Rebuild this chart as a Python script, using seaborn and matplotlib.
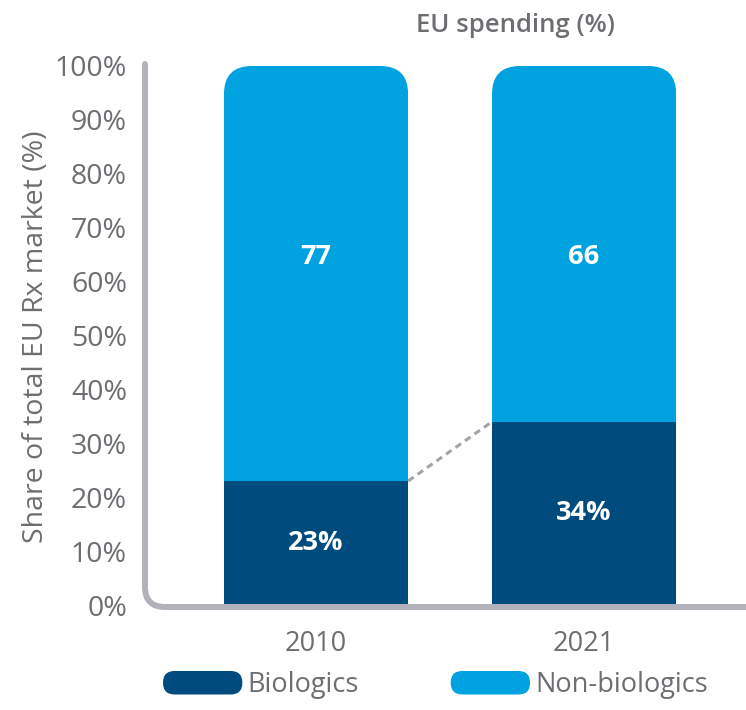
import matplotlib
matplotlib.use("Agg")
import matplotlib.pyplot as plt
import seaborn as sns
import pandas as pd
from matplotlib.patches import FancyBboxPatch, Patch, PathPatch
from matplotlib.path import Path
from matplotlib.legend_handler import HandlerPatch
from matplotlib.transforms import IdentityTransform

# Share of the total EU Rx market, by year
years = ["2010", "2021"]
biologics = [23, 34]
non_biologics = [77, 66]
y_ticks = [0, 10, 20, 30, 40, 50, 60, 70, 80, 90, 100]

DARK = "#004b7d"
LIGHT = "#00a3e0"
GRAY_TXT = "#6d6e72"
GRAY_AX = "#b2b2ba"
GRAY_DASH = "#a3a3aa"

sns.set_theme(style="white")
plt.rcParams["font.family"] = ["Open Sans", "DejaVu Sans"]

W, H = 746, 710
fig = plt.figure(figsize=(W / 100, H / 100), dpi=100)
ax = fig.add_axes([145 / W, (H - 605) / H, (W - 145) / W, (605 - 66) / H])

df = pd.DataFrame({"year": years, "Biologics": biologics, "Non-biologics": non_biologics})
df["total"] = df["Biologics"] + df["Non-biologics"]

bar_w = 0.687
sns.barplot(data=df, x="year", y="total", color=LIGHT, width=bar_w,
            saturation=1, linewidth=0, ax=ax)
sns.barplot(data=df, x="year", y="Biologics", color=DARK, width=bar_w,
            saturation=1, linewidth=0, ax=ax)

ax.set_xlim(-0.638, 1.604)
ax.set_ylim(0, 100)
for s in ax.spines.values():
    s.set_visible(False)

light_bars = ax.patches[:2]
dark_bars = ax.patches[2:4]

# round the top corners of the stacked columns
radius = 28
for p in light_bars:
    x0 = p.get_x()
    x1 = x0 + p.get_width()
    dx0, dy1 = ax.transData.transform((x0, p.get_y() + p.get_height()))
    dx1, dy0 = ax.transData.transform((x1, 0))
    clip = FancyBboxPatch((dx0, dy0 - 100), dx1 - dx0, dy1 - dy0 + 100,
                          boxstyle=f"round,pad=0,rounding_size={radius}",
                          transform=IdentityTransform())
    p.set_clip_path(clip)

# value labels
for i, (b, nb) in enumerate(zip(biologics, non_biologics)):
    ax.text(i, b / 2, f"{b}%", ha="center", va="center", color="white",
            fontsize=19.5, fontweight="bold")
    ax.text(i, 64.5, f"{nb}", ha="center", va="center", color="white",
            fontsize=19.5, fontweight="bold")

# dashed connector between the biologics segments
b0, b1 = dark_bars
ax.plot([b0.get_x() + b0.get_width(), b1.get_x()],
        [b0.get_height(), b1.get_height()],
        ls=(0, (2.2, 1.6)), color=GRAY_DASH, lw=2.2, zorder=3)

# axes ticks and labels
ax.set_yticks(y_ticks)
ax.set_yticklabels([f"{v}%" for v in y_ticks])
ax.tick_params(axis="y", length=0, pad=13, labelsize=20.5, labelcolor=GRAY_TXT)
ax.tick_params(axis="x", length=0, pad=18, labelsize=19.5, labelcolor=GRAY_TXT)
ax.set_xlabel("")
ax.set_ylabel("Share of total EU Rx market (%)", fontsize=20.5, color=GRAY_TXT)
ax.yaxis.label.set_verticalalignment("center")
ax.yaxis.set_label_coords((36 - 145) / (W - 145), 0.497)

# L-shaped axis line with a rounded corner
r = 20
yb = H - 607
verts = [(145, H - 64), (145, yb + r), (145, yb), (145 + r, yb), (W + 10, yb)]
codes = [Path.MOVETO, Path.LINETO, Path.CURVE3, Path.CURVE3, Path.LINETO]
fig.add_artist(PathPatch(Path(verts, codes), fill=False, edgecolor=GRAY_AX,
                         lw=4.3, capstyle="round", joinstyle="round",
                         transform=IdentityTransform(), zorder=5))

fig.text(515 / W, 1 - 26 / H, "EU spending (%)", ha="center", va="center",
         fontsize=18.5, fontweight="semibold", color=GRAY_TXT)


class HandlerPill(HandlerPatch):
    def create_artists(self, legend, orig_handle, xdescent, ydescent,
                       width, height, fontsize, trans):
        pill = FancyBboxPatch((-xdescent, -ydescent), width, height,
                              boxstyle=f"round,pad=0,rounding_size={height / 2}",
                              facecolor=orig_handle.get_facecolor(),
                              edgecolor="none", transform=trans)
        return [pill]


handles = [Patch(facecolor=DARK, label="Biologics"),
           Patch(facecolor=LIGHT, label="Non-biologics")]
fig.legend(handles=handles, handler_map={Patch: HandlerPill()},
           loc="center left", bbox_to_anchor=(163 / W, 1 - 685 / H),
           ncol=2, frameon=False, fontsize=19.5, labelcolor=GRAY_TXT,
           handlelength=2.93, handleheight=0.96, handletextpad=0.18,
           columnspacing=3.4, borderpad=0, borderaxespad=0)

fig.savefig("out.png", dpi=100)
